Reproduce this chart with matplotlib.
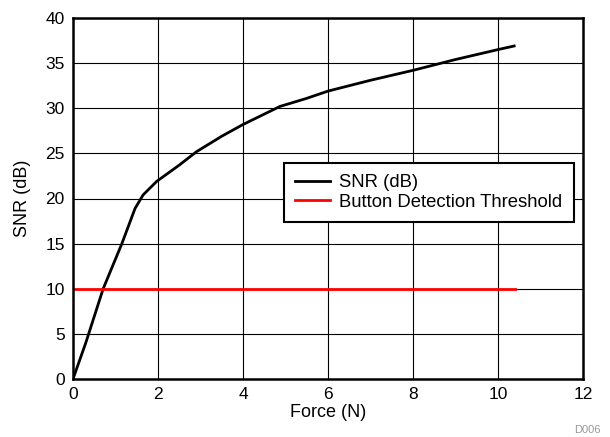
import matplotlib
matplotlib.use("Agg")
import matplotlib.pyplot as plt
import numpy as np

plt.rcParams["font.family"] = ["Liberation Sans", "DejaVu Sans"]

# SNR curve
force_n = [0.0, 0.3, 0.71, 1.15, 1.46, 1.65, 1.97, 2.5, 2.91, 3.5, 4.0, 4.87, 5.5, 6.0,
           7.0, 8.0, 9.0, 10.0, 10.38]
snr_db = [0.0, 4.0, 10.0, 15.0, 18.9, 20.4, 21.9, 23.7, 25.2, 26.9, 28.2, 30.2, 31.1, 31.9,
          33.1, 34.2, 35.4, 36.5, 36.9]

thr_force = [0.0, 10.4]
thr_db = [10.0, 10.0]

W, H = 610, 437
fig = plt.figure(figsize=(W / 100, H / 100), dpi=100)
ax = fig.add_axes([73 / W, 1 - 379 / H, 510 / W, 361 / H])

ax.plot(force_n, snr_db, color="black", lw=2.0, label="SNR (dB)")
ax.plot(thr_force, thr_db, color="red", lw=2.0, label="Button Detection Threshold")

ax.set_xlim(0, 12)
ax.set_ylim(0, 40)
ax.set_xticks(np.arange(0, 13, 2))
ax.set_yticks(np.arange(0, 41, 5))
ax.grid(True, color="black", lw=0.8)
ax.set_axisbelow(True)
for s in ax.spines.values():
    s.set_linewidth(1.8)
ax.tick_params(labelsize=12.5, length=0, pad=6)
ax.set_xlabel("Force (N)", fontsize=13, labelpad=1)
ax.set_ylabel("SNR (dB)", fontsize=13, labelpad=10)

leg = ax.legend(loc="upper left", bbox_to_anchor=(284 / W, 1 - 163 / H),
                bbox_transform=fig.transFigure, borderaxespad=0, fontsize=13.3,
                frameon=True, fancybox=False, edgecolor="black", framealpha=1,
                handlelength=1.9, handletextpad=0.5, borderpad=0.6,
                labelspacing=0.14)
leg.get_frame().set_linewidth(1.5)

fig.text(601 / W, 1 - 430 / H, "D006", fontsize=8, color="#999999",
         ha="right", va="center")

fig.savefig("out.png", dpi=100)
